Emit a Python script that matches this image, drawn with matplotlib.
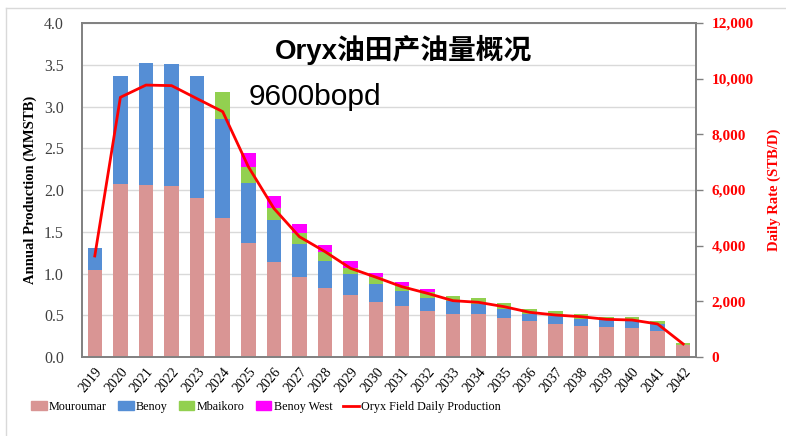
import matplotlib
matplotlib.use("Agg")
import matplotlib.pyplot as plt
from matplotlib.lines import Line2D
from matplotlib.ticker import FuncFormatter, MultipleLocator
import numpy as np

years = [str(y) for y in range(2019, 2043)]
mouroumar = [1.04, 2.07, 2.06, 2.05, 1.90, 1.66, 1.37, 1.14, 0.96, 0.83, 0.74, 0.66,
             0.61, 0.55, 0.52, 0.52, 0.47, 0.43, 0.40, 0.375, 0.36, 0.35, 0.31, 0.14]
benoy = [0.27, 1.29, 1.46, 1.46, 1.46, 1.19, 0.71, 0.50, 0.39, 0.32, 0.25, 0.21,
         0.18, 0.16, 0.15, 0.12, 0.11, 0.09, 0.09, 0.085, 0.08, 0.08, 0.09, 0.0]
mbaikoro = [0.0, 0.0, 0.0, 0.0, 0.0, 0.32, 0.19, 0.15, 0.13, 0.11, 0.08, 0.09,
            0.06, 0.07, 0.06, 0.07, 0.07, 0.06, 0.06, 0.05, 0.04, 0.05, 0.03, 0.03]
benoy_west = [0.0, 0.0, 0.0, 0.0, 0.0, 0.0, 0.17, 0.14, 0.11, 0.08, 0.08, 0.05,
              0.05, 0.03, 0.0, 0.0, 0.0, 0.0, 0.0, 0.0, 0.0, 0.0, 0.0, 0.0]
daily_rate = [3630, 9330, 9770, 9750, 9280, 8815, 6840, 5340, 4320, 3785, 3185, 2863,
              2527, 2288, 2024, 1964, 1808, 1605, 1509, 1449, 1353, 1329, 1186, 467]

c_mou = "#D99594"
c_ben = "#558ED5"
c_mba = "#92D050"
c_bw = "#FF00FF"
c_line = "#FF0000"

serif = ["Liberation Serif", "DejaVu Serif"]

fig = plt.figure(figsize=(7.86, 4.36), dpi=100)
ax = fig.add_axes([82/786, 1-357/436, 614/786, 334/436])
x = np.arange(len(years))
w = 0.57
m = np.array(mouroumar); b = np.array(benoy); g = np.array(mbaikoro); bw = np.array(benoy_west)
ax.bar(x, m, w, color=c_mou, zorder=2)
ax.bar(x, b, w, bottom=m, color=c_ben, zorder=2)
ax.bar(x, g, w, bottom=m+b, color=c_mba, zorder=2)
ax.bar(x, bw, w, bottom=m+b+g, color=c_bw, zorder=2)

ax.set_xlim(-0.5, len(years)-0.5)
ax.set_ylim(0, 4.0)
ax.yaxis.set_major_locator(MultipleLocator(0.5))
ax.yaxis.set_major_formatter(FuncFormatter(lambda v, p: f"{v:.1f}"))
ax.grid(axis="y", color="#D9D9D9", linewidth=1, zorder=0)
ax.set_axisbelow(True)
ax.set_xticks(x)
ax.set_xticklabels(years, rotation=50, ha="right", va="top", rotation_mode="anchor",
                   fontsize=10, family=serif, color="#000000")
ax.tick_params(axis="x", length=0, pad=6)
ax.tick_params(axis="y", length=0, pad=13, labelsize=11.5, labelcolor="#404040")
for t in ax.get_yticklabels():
    t.set_family(serif)
for s in ax.spines.values():
    s.set_color("#808080")
    s.set_linewidth(1.2)
ax.set_ylabel("Annual Production (MMSTB)", family=serif, fontweight="bold", fontsize=10.5,
              color="#000000", labelpad=5)

ax2 = ax.twinx()
ax2.plot(x, daily_rate, color=c_line, linewidth=2, zorder=3)
ax2.set_ylim(0, 12000)
ax2.yaxis.set_major_locator(MultipleLocator(2000))
ax2.yaxis.set_major_formatter(FuncFormatter(lambda v, p: f"{int(v):,}"))
ax2.tick_params(axis="y", length=5, width=1, color="#808080", pad=6, labelsize=11,
                labelcolor=c_line)
for t in ax2.get_yticklabels():
    t.set_family(serif)
    t.set_fontweight("bold")
for s in ax2.spines.values():
    s.set_color("#808080")
    s.set_linewidth(1.2)
ax2.set_ylabel("Daily Rate (STB/D)", family=serif, fontweight="bold", fontsize=10.5,
               color=c_line, labelpad=10)

ax.text(0.523, 0.919, "Oryx油田产油量概况", transform=ax.transAxes, ha="center", va="center",
        fontsize=20, fontweight="bold", family=["Liberation Sans", "Noto Sans CJK SC"],
        color="#000000", zorder=5)
ax.text(0.272, 0.778, "9600bopd", transform=ax.transAxes, ha="left", va="center",
        fontsize=21.5, family=["Liberation Sans", "DejaVu Sans"], color="#000000", zorder=5)

handles = [plt.Rectangle((0, 0), 1, 1, color=c_mou), plt.Rectangle((0, 0), 1, 1, color=c_ben),
           plt.Rectangle((0, 0), 1, 1, color=c_mba), plt.Rectangle((0, 0), 1, 1, color=c_bw),
           Line2D([0], [0], color=c_line, linewidth=2)]
labels = ["Mouroumar", "Benoy", "Mbaikoro", "Benoy West", "Oryx Field Daily Production"]
fig.legend(handles, labels, loc="center", bbox_to_anchor=(266/786, 1-407/436), ncol=5,
           frameon=False, prop={"family": serif, "size": 8.7}, handlelength=1.3,
           handleheight=0.75, handletextpad=0.2, columnspacing=0.9)

fig.add_artist(Line2D([6/786, 1.0], [1-8/436, 1-8/436], transform=fig.transFigure,
                      color="#D9D9D9", linewidth=1))
fig.add_artist(Line2D([6/786, 6/786], [0, 1-8/436], transform=fig.transFigure,
                      color="#D9D9D9", linewidth=1))

fig.savefig("out.png", dpi=100)
